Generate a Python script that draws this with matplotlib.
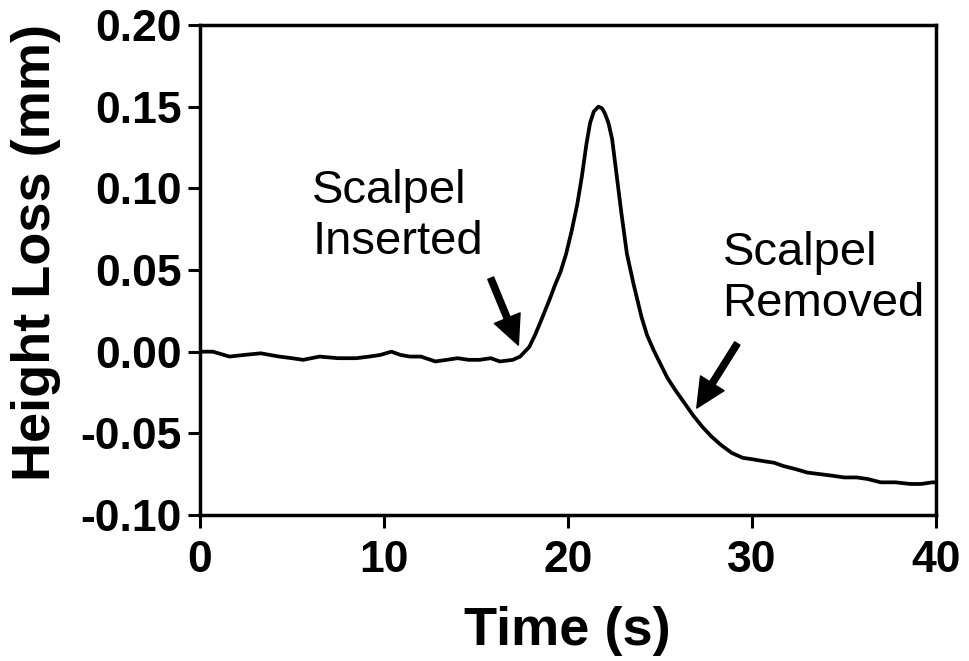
import numpy as np
import matplotlib
matplotlib.use('Agg')
import matplotlib.pyplot as plt


# Trace (time in s, height loss in mm)
time_s = [0.0, 0.7, 1.6, 2.4, 3.3, 4.3, 5.0, 5.6, 6.5, 7.5, 8.5, 9.2, 9.8, 10.4,
          10.9, 11.4, 12.0, 12.8, 13.4, 14.0, 14.6, 15.2, 15.8, 16.3, 17.0, 17.4,
          17.9, 18.2, 18.5, 19.0, 19.3, 19.6, 19.9, 20.2, 20.5, 20.75, 21.0, 21.2,
          21.4, 21.65, 21.85, 22.0, 22.2, 22.4, 22.6, 22.9, 23.2, 23.55, 24.0, 24.3,
          24.65, 25.0, 25.4, 25.8, 26.3, 26.8, 27.3, 27.8, 28.3, 28.9, 29.5, 30.1,
          30.6, 31.2, 31.7, 32.4, 33.0, 33.7, 34.4, 35.0, 35.7, 36.3, 37.0, 37.8,
          38.6, 39.2, 39.8, 40.0]
height_mm = [0.000, 0.000, -0.003, -0.002, -0.001, -0.003, -0.004, -0.005, -0.003, -0.004,
             -0.004, -0.003, -0.002, 0.000, -0.002, -0.003, -0.003, -0.006, -0.005, -0.004,
             -0.005, -0.005, -0.004, -0.006, -0.005, -0.003,
             0.003, 0.010, 0.018, 0.032, 0.041, 0.049, 0.060, 0.074, 0.090, 0.107,
             0.127, 0.140, 0.147, 0.150, 0.149, 0.146, 0.140, 0.130, 0.112, 0.085,
             0.060, 0.042, 0.021, 0.010, 0.001, -0.007, -0.016, -0.023, -0.031, -0.039,
             -0.046, -0.052, -0.057, -0.062, -0.065, -0.066, -0.067, -0.068, -0.070, -0.072,
             -0.074, -0.075, -0.076, -0.077, -0.077, -0.078, -0.080, -0.080, -0.081, -0.081,
             -0.080, -0.080]

x_ticks = [0, 10, 20, 30, 40]
y_ticks = [-0.10, -0.05, 0.00, 0.05, 0.10, 0.15, 0.20]
y_tick_labels = ['-0.10', '-0.05', '0.00', '0.05', '0.10', '0.15', '0.20']

plt.rcParams['font.family'] = ['Liberation Sans', 'DejaVu Sans']
plt.rcParams['axes.unicode_minus'] = False

fig = plt.figure(figsize=(9.69, 6.61), dpi=100)
ax = fig.add_axes([200/969, 146/661, 736/969, 490/661])

ax.plot(time_s, height_mm, color='black', lw=2.7, solid_joinstyle='round')

ax.set_xlim(0, 40)
ax.set_ylim(-0.10, 0.20)
ax.set_xticks(x_ticks)
ax.set_yticks(y_ticks)
ax.set_yticklabels(y_tick_labels)
for lab in ax.get_xticklabels() + ax.get_yticklabels():
    lab.set_fontweight('bold')
ax.tick_params(axis='both', direction='out', length=9, width=2.2, labelsize=32)
ax.tick_params(axis='x', pad=9)
ax.tick_params(axis='y', pad=4)
for s in ax.spines.values():
    s.set_linewidth(2.5)

fig.text(567/969, 16/661, 'Time (s)', ha='center', va='baseline',
         fontsize=39, fontweight='bold')
fig.text(36/969, 1 - 252/661, 'Height Loss (mm)', ha='center', va='center',
         rotation=90, fontsize=39, fontweight='bold')

# annotations
ax.text(6.1, 0.083, 'Scalpel\nInserted', ha='left', va='center', fontsize=34,
        linespacing=1.2)
ax.text(28.4, 0.045, 'Scalpel\nRemoved', ha='left', va='center', fontsize=34,
        linespacing=1.2)
arrow = dict(facecolor='black', edgecolor='black', width=4.5, headwidth=20,
             headlength=21, shrink=0.0)
ax.annotate('', xy=(17.3, 0.004), xytext=(15.8, 0.045), arrowprops=arrow)
ax.annotate('', xy=(27.0, -0.0345), xytext=(29.2, 0.005), arrowprops=arrow)

fig.patch.set_facecolor('white')
fig.savefig('out.png', dpi=100)
